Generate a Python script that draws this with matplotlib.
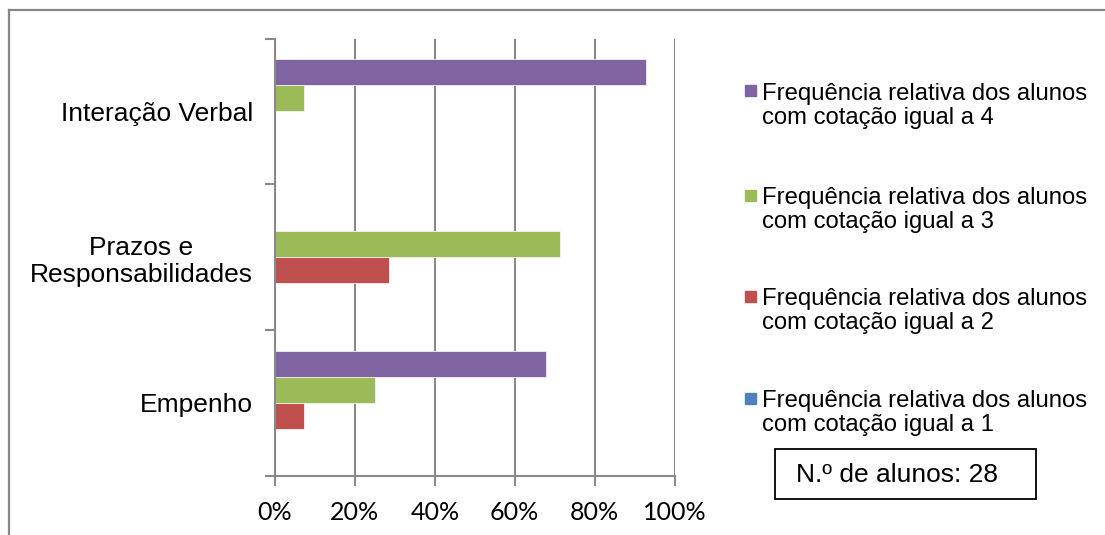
import matplotlib.pyplot as plt
import numpy as np
from matplotlib.patches import Rectangle
from matplotlib.ticker import FuncFormatter, FixedLocator

# Dados: numero de alunos por cotacao (total 28)
n_alunos = 28
categorias = ['Empenho', 'Prazos e\nResponsabilidades', 'Interação Verbal']
cotacao_1 = [0, 0, 0]
cotacao_2 = [2, 8, 0]
cotacao_3 = [7, 20, 2]
cotacao_4 = [19, 0, 26]

series = [cotacao_1, cotacao_2, cotacao_3, cotacao_4]
cores = ['#4F81BD', '#C0504D', '#9BBB59', '#8064A2']
rotulos = ['Frequência relativa dos alunos\ncom cotação igual a %d' % k for k in (1, 2, 3, 4)]

W, H = 1105, 535
fig = plt.figure(figsize=(W / 100, H / 100), dpi=100)
plt.rcParams['font.family'] = ['Liberation Sans', 'DejaVu Sans']

# moldura exterior do grafico
fig.add_artist(plt.Line2D([9 / W, 9 / W], [0, 1 - 10 / H], transform=fig.transFigure,
                          color='#878787', lw=1.6))
fig.add_artist(plt.Line2D([9 / W, 1], [1 - 10 / H, 1 - 10 / H], transform=fig.transFigure,
                          color='#878787', lw=1.6))

ax = fig.add_axes([275 / W, 1 - 475.7 / H, (674.5 - 275) / W, (475.7 - 38.5) / H])

y = np.arange(len(categorias))
w = 1 / 5.6
for k, (vals, cor) in enumerate(zip(series, cores)):
    freq = np.array(vals) / n_alunos
    ax.barh(y + (k - 1.5) * w, freq, height=w, color=cor, edgecolor='#f2f2f2',
            linewidth=0.6, zorder=3)

ax.set_xlim(0, 1)
ax.set_ylim(-0.5, 2.5)
ax.set_xticks(np.arange(0, 1.01, 0.2))
ax.xaxis.set_major_formatter(FuncFormatter(lambda v, p: '%d%%' % round(v * 100)))
ax.grid(axis='x', color='#898989', lw=1.5, zorder=0)
ax.set_axisbelow(True)

ax.set_yticks(y)
ax.set_yticklabels(categorias, fontsize=19, linespacing=1.2)
ax.yaxis.set_minor_locator(FixedLocator([-0.5, 0.5, 1.5, 2.5]))
ax.tick_params(axis='y', which='major', length=0, pad=16)
ax.tick_params(axis='y', which='minor', length=7, width=1.5, color='#898989')
ax.tick_params(axis='x', length=7, width=1.5, color='#898989', labelsize=18, pad=11)
for lab in ax.get_xticklabels():
    lab.set_family(['Lato', 'DejaVu Sans'])
for lab in ax.get_yticklabels():
    lab.set_multialignment('center')

for s in ('top', 'right'):
    ax.spines[s].set_visible(False)
for s in ('left', 'bottom'):
    ax.spines[s].set_color('#898989')
    ax.spines[s].set_linewidth(1.5)
    ax.spines[s].set_zorder(5)

# legenda (cotacao 4 em cima)
ys_leg = [91, 195, 296, 398]
for yy, k in zip(ys_leg, (3, 2, 1, 0)):
    fig.add_artist(Rectangle((745 / W, 1 - (yy + 5.5) / H), 11 / W, 11 / H,
                             transform=fig.transFigure, color=cores[k]))
    fig.text(762 / W, 1 - (yy + 15) / H, rotulos[k], fontsize=17.2, va='center',
             ha='left', linespacing=1.17)

# caixa com o numero de alunos
fig.add_artist(Rectangle((775 / W, 1 - 499 / H), 261 / W, 50 / H, transform=fig.transFigure,
                         fill=False, edgecolor='black', lw=1.3))
fig.text(897 / W, 1 - 475 / H, 'N.º de alunos: %d' % n_alunos, fontsize=19,
         ha='center', va='center')

fig.savefig('out.png', dpi=100)
